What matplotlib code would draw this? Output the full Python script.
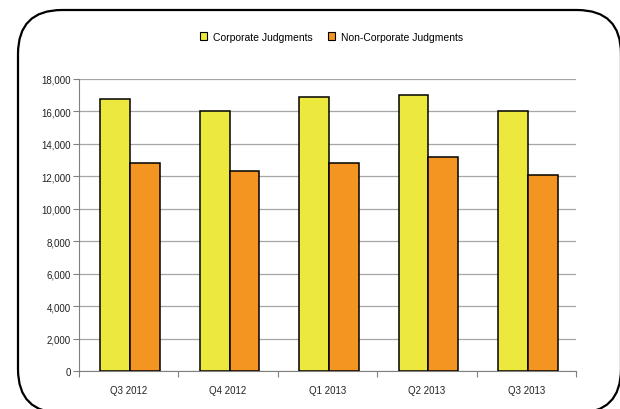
import matplotlib
matplotlib.use("Agg")
import matplotlib.pyplot as plt
from matplotlib.patches import FancyBboxPatch
from matplotlib.transforms import IdentityTransform
import numpy as np

plt.rcParams['font.family'] = ['Liberation Sans', 'DejaVu Sans']

# data
quarters = ['Q3 2012', 'Q4 2012', 'Q1 2013', 'Q2 2013', 'Q3 2013']
corporate = [16760, 16000, 16900, 17000, 16000]
non_corporate = [12840, 12350, 12850, 13170, 12100]

yellow = '#ECE83E'
orange = '#F39520'
grid_col = '#A6A6A6'

fig = plt.figure(figsize=(6.2, 4.1), dpi=100)
ax = fig.add_axes([0.1274, 0.0927, 0.8016, 0.7123])

x = np.arange(len(quarters))
w = 0.30
ax.bar(x - w / 2 + 0.015, corporate, w, color=yellow, edgecolor='black',
       linewidth=1.1, label='Corporate Judgments', zorder=3)
ax.bar(x + w / 2 + 0.015, non_corporate, w, color=orange, edgecolor='black',
       linewidth=1.1, label='Non-Corporate Judgments', zorder=3)

ax.set_xlim(-0.5, len(quarters) - 0.5)
ax.set_ylim(0, 18000)
ax.set_yticks(np.arange(0, 18001, 2000))
ax.set_yticklabels(['{:,}'.format(v) for v in range(0, 18001, 2000)])
ax.yaxis.grid(True, color=grid_col, linewidth=0.9, zorder=0)

# category labels between boundary ticks
ax.set_xticks(x)
ax.set_xticklabels(quarters)
ax.tick_params(axis='x', length=0, pad=10)
ax.set_xticks(np.arange(-0.5, len(quarters)), minor=True)
ax.tick_params(axis='x', which='minor', length=4, color='#808080', width=0.8)
ax.tick_params(axis='y', length=4, color='#808080', width=0.8, pad=2)
ax.tick_params(labelsize=7, labelcolor='#222222')

for s in ['top', 'right']:
    ax.spines[s].set_visible(False)
ax.spines['left'].set_color('#808080')
ax.spines['bottom'].set_color('#808080')
ax.spines['left'].set_linewidth(0.8)
ax.spines['bottom'].set_linewidth(0.8)

leg = fig.legend(loc='center', bbox_to_anchor=(0.535, 0.908), ncol=2,
                 frameon=False, fontsize=7.5, handlelength=0.7,
                 handleheight=0.7, handletextpad=0.6, columnspacing=1.4)
for h in leg.legend_handles:
    h.set_linewidth(0.8)

# rounded outer frame (pixel coordinates)
frame = FancyBboxPatch((18, -4), 603, 403,
                       boxstyle='round,pad=0,rounding_size=44',
                       transform=IdentityTransform(), fill=False,
                       edgecolor='black', linewidth=1.6, clip_on=False)
fig.patches.append(frame)

fig.savefig('out.png', dpi=100)
